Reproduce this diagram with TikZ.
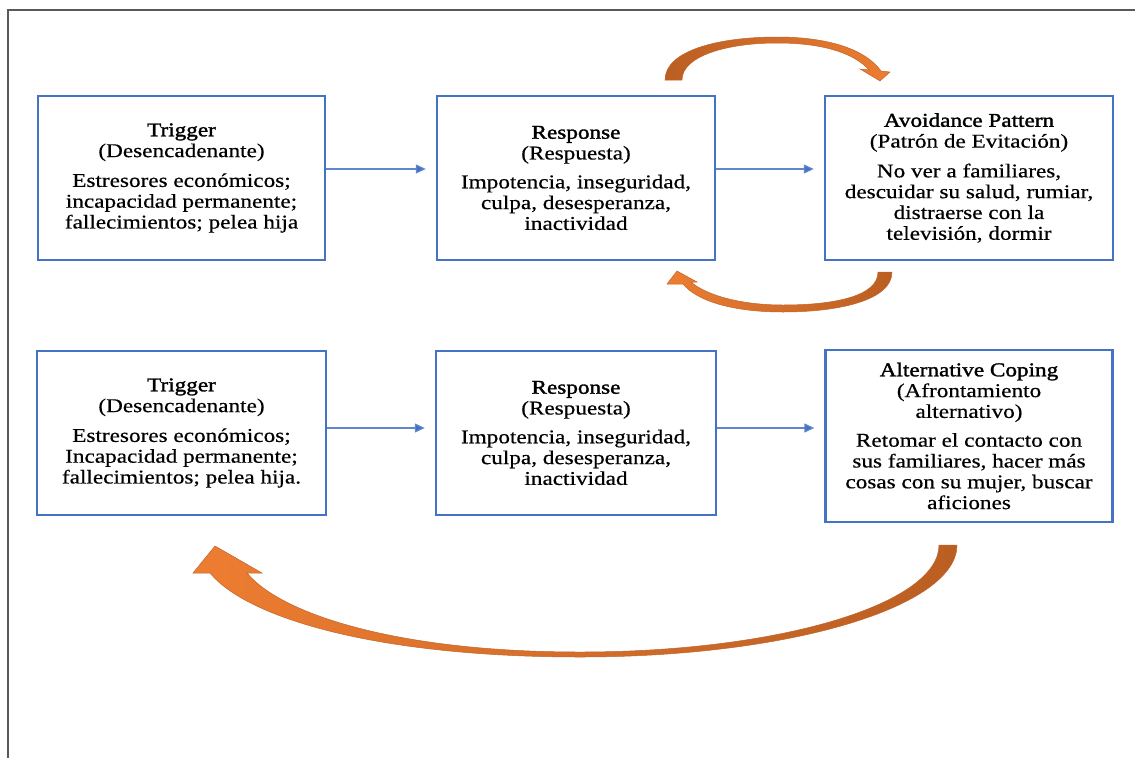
\documentclass[tikz,border=0pt]{standalone}
\usepackage{fontspec}
\setmainfont[FakeStretch=1.19,FakeBold=0.5]{Liberation Serif}
\newfontfamily\headfont[FakeStretch=1.19,FakeBold=1.6]{Liberation Serif}
\usetikzlibrary{arrows.meta,positioning}

\definecolor{boxblue}{HTML}{4472C4}
\definecolor{orangeL}{HTML}{ED7D31}
\definecolor{orangeD}{HTML}{BA5E22}
\definecolor{orangeE}{HTML}{C0652C}

\newcommand{\stagehead}[1]{{\headfont #1}}

\begin{document}
\begin{tikzpicture}[
    x=1pt, y=-1pt,
    stage/.style={rectangle, draw=boxblue, line width=2.4pt, align=center, minimum height=164pt, inner sep=2pt, font=\fontsize{19.5}{20.8}\selectfont},
    arrow/.style={draw=boxblue!85, line width=1.1pt, -{Triangle[length=10pt,width=9pt,fill=boxblue]}, shorten >=10pt},
    bendarrow/.style={draw=orangeE, line width=0.5pt},
    frame/.style={line width=1.4pt, draw=black!65}
]
    \useasboundingbox (0,0) rectangle (1135,758);
    \draw[frame] (8,758) -- (8,10) -- (1135,10);

    % top row: avoidance
    \node[stage, minimum width=287pt] (trigA) at (181.5,178)
        {\stagehead{Trigger}\\(Desencadenante)\\[9pt]Estresores económicos;\\incapacidad permanente;\\fallecimientos; pelea hija};
    \node[stage, minimum width=278pt, right=109.6pt of trigA] (respA)
        {\stagehead{Response}\\(Respuesta)\\[8pt]Impotencia, inseguridad,\\culpa, desesperanza,\\inactividad};
    \node[stage, minimum width=288pt, right=107.6pt of respA] (avoid)
        {\stagehead{Avoidance Pattern}\\(Patrón de Evitación)\\[9pt]No ver a familiares,\\descuidar su salud, rumiar,\\distraerse con la\\televisión, dormir};

    % bottom row: alternative coping
    \node[stage, minimum width=289pt, below=88.6pt of trigA] (trigB)
        {\stagehead{Trigger}\\(Desencadenante)\\[9pt]Estresores económicos;\\Incapacidad permanente;\\fallecimientos; pelea hija.};
    \node[stage, minimum width=280pt, below=88.6pt of respA] (respB)
        {\stagehead{Response}\\(Respuesta)\\[8pt]Impotencia, inseguridad,\\culpa, desesperanza,\\inactividad};
    \node[stage, minimum width=287pt, minimum height=172pt, below=87.6pt of avoid] (altcop)
        {\stagehead{Alternative Coping}\\(Afrontamiento\\alternativo)\\[8pt]Retomar el contacto con\\sus familiares, hacer más\\cosas con su mujer, buscar\\aficiones};

    \draw[arrow] ([yshift=9pt]trigA.east) -- ([yshift=9pt]respA.west);
    \draw[arrow] ([yshift=9pt]respA.east) -- ([yshift=9pt]respA.east -| avoid.west);
    \draw[arrow] ([yshift=5pt]trigB.east) -- ([yshift=5pt]respB.west);
    \draw[arrow] ([yshift=5pt]respB.east) -- ([yshift=5pt]respB.east -| altcop.west);

    % curved block arrows
    \draw[bendarrow, left color=orangeD, right color=orangeL]
        (665,80) .. controls (665,50) and (720,37) .. (777,37)
        .. controls (830,37) and (866,50) .. (881,71)
        -- (890,72) -- (880,81) -- (860,69) -- (869,70)
        .. controls (855,54) and (825,43) .. (777,43)
        .. controls (727,43) and (682,56) .. (682,80) -- cycle;
    \draw[bendarrow, left color=orangeL, right color=orangeD]
        (892,272) .. controls (892,300) and (840,312) .. (783,312)
        .. controls (730,312) and (696,300) .. (683,284)
        -- (667,284) -- (677,271) -- (697,282) -- (691,282)
        .. controls (706,295) and (740,305) .. (783,305)
        .. controls (835,305) and (878,296) .. (878,272) -- cycle;
    \draw[bendarrow, left color=orangeL, right color=orangeD]
        (957,545) .. controls (957,607) and (789,657) .. (580,657)
        .. controls (380,657) and (248,619) .. (210,573)
        -- (193,573) -- (215,546) -- (262,573) -- (247,573)
        .. controls (282,615) and (400,652) .. (580,652)
        .. controls (779,652) and (939,604) .. (939,545) -- cycle;
\end{tikzpicture}
\end{document}
